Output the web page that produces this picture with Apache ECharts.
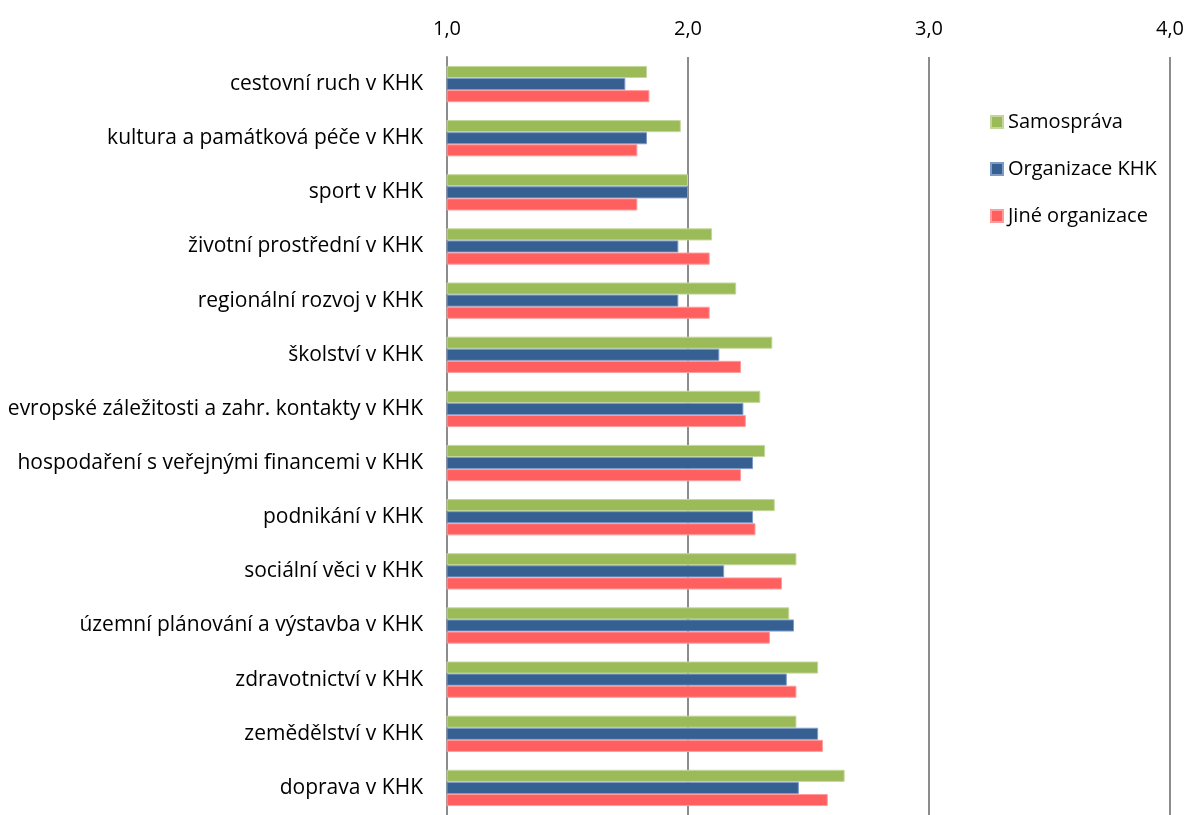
<!DOCTYPE html>
<html>
<head>
<meta charset="utf-8">
<script src="https://cdn.jsdelivr.net/npm/echarts@6/dist/echarts.min.js"></script>
<style>
  html, body { margin: 0; padding: 0; background: #fff; }
  #chart { width: 1187px; height: 815px; }
</style>
</head>
<body>
<div id="chart"></div>
<script>
// Oblasti hodnocení (shora dolů)
const categories = [
  'cestovní ruch v KHK',
  'kultura a památková péče v KHK',
  'sport v KHK',
  'životní prostřední v KHK',
  'regionální rozvoj v KHK',
  'školství v KHK',
  'evropské záležitosti a zahr. kontakty v KHK',
  'hospodaření s veřejnými financemi v KHK',
  'podnikání v KHK',
  'sociální věci v KHK',
  'územní plánování a výstavba v KHK',
  'zdravotnictví v KHK',
  'zemědělství v KHK',
  'doprava v KHK'
];

const samosprava = [1.83, 1.97, 2.00, 2.10, 2.20, 2.35, 2.30, 2.32, 2.36, 2.45, 2.42, 2.54, 2.45, 2.65];
const organizaceKHK = [1.74, 1.83, 2.00, 1.96, 1.96, 2.13, 2.23, 2.27, 2.27, 2.15, 2.44, 2.41, 2.54, 2.46];
const jineOrganizace = [1.84, 1.79, 1.79, 2.09, 2.09, 2.22, 2.24, 2.22, 2.28, 2.39, 2.34, 2.45, 2.56, 2.58];

const seriesNames = ['Samospráva', 'Organizace KHK', 'Jiné organizace'];
const xTicks = [1, 2, 3, 4];

const FONT = '"Open Sans", Lato, sans-serif';
const FONT_SIZE = 20;
const GRID_COLOR = '#8c8c8c';

const chart = echarts.init(document.getElementById('chart'), null, { renderer: 'canvas' });

function barSeries(name, data, color, border) {
  return {
    name: name,
    type: 'bar',
    data: data,
    barGap: '0%',
    barCategoryGap: '33%',
    itemStyle: { color: color, borderColor: border, borderWidth: 1 },
    animation: false
  };
}

chart.setOption({
  backgroundColor: '#ffffff',
  textStyle: { fontFamily: FONT },
  grid: { left: 447, top: 57, width: 723, height: 765, containLabel: false },
  legend: {
    orient: 'vertical',
    left: 985,
    top: 107,
    itemWidth: 12,
    itemHeight: 12,
    itemGap: 27,
    icon: 'rect',
    textStyle: { fontFamily: FONT, fontSize: FONT_SIZE, color: '#000' },
    data: seriesNames
  },
  xAxis: {
    type: 'value',
    position: 'top',
    min: xTicks[0],
    max: xTicks[xTicks.length - 1],
    interval: 1,
    axisLine: { show: false },
    axisTick: { show: false },
    axisLabel: {
      fontFamily: FONT, fontSize: FONT_SIZE, color: '#000', margin: 18,
      formatter: v => v.toFixed(1).replace('.', ',')
    },
    splitLine: { show: true, lineStyle: { color: GRID_COLOR, width: 2 } }
  },
  yAxis: {
    type: 'category',
    inverse: true,
    data: categories,
    axisLine: { show: true, lineStyle: { color: GRID_COLOR, width: 2 } },
    axisTick: { show: false },
    axisLabel: { fontFamily: FONT, fontSize: 21, color: '#000', margin: 24 }
  },
  series: [
    barSeries(seriesNames[0], samosprava, '#9bbb59', '#c3d69b'),
    barSeries(seriesNames[1], organizaceKHK, '#366092', '#7e9bc8'),
    barSeries(seriesNames[2], jineOrganizace, '#ff5f5f', '#ff9d9d')
  ]
});
</script>
</body>
</html>
